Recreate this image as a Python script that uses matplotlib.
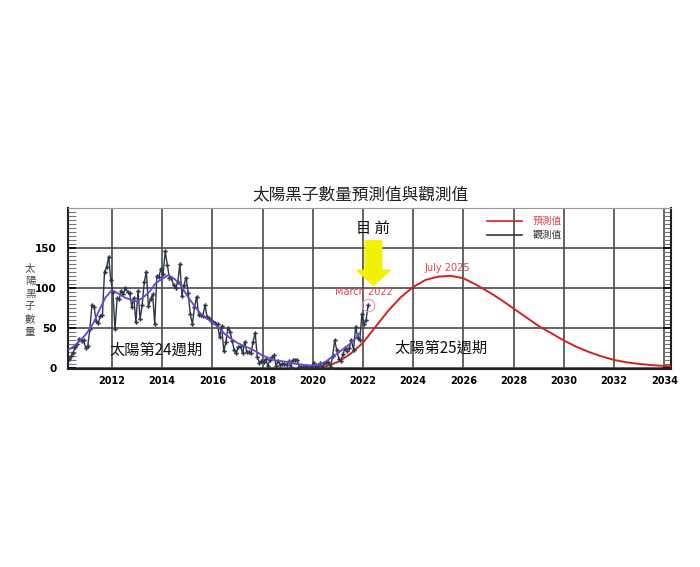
import numpy as np
import matplotlib
matplotlib.use('Agg')
from matplotlib import pyplot as plt
from matplotlib.ticker import MultipleLocator

plt.rcParams['font.family'] = ['Noto Sans CJK TC', 'DejaVu Sans']

# monthly observed sunspot numbers, Apr 2010 .. Mar 2022
obs_start = (2010, 4)
obs_values = [
    10.4, 13.9, 18.8, 25.2, 29.6, 36.4, 33.6, 34.4, 24.5,
    27.3, 48.3, 78.6, 76.1, 58.2, 56.1, 64.5, 65.8, 120.1, 125.7, 139.1, 109.3,
    94.4, 47.8, 86.6, 85.9, 96.5, 92.0, 100.1, 94.8, 93.7, 76.5, 87.6, 56.8,
    96.1, 60.9, 78.3, 107.3, 120.2, 76.7, 86.2, 91.8, 54.5, 114.4, 113.9, 124.2,
    117.0, 146.1, 128.7, 112.5, 112.5, 102.9, 100.2, 106.9, 130.0, 90.0, 103.6, 112.9,
    93.0, 66.7, 54.5, 75.3, 88.8, 66.5, 65.8, 64.4, 78.6, 63.6, 62.2, 58.0,
    57.0, 56.4, 54.1, 37.9, 51.5, 20.5, 32.4, 50.2, 44.6, 33.4, 21.4, 18.5,
    26.1, 26.4, 17.7, 32.3, 18.9, 19.2, 17.8, 32.6, 43.7, 13.2, 5.7, 8.2,
    6.8, 10.7, 2.5, 8.9, 13.1, 15.6, 1.6, 8.7, 3.3, 4.9, 4.9, 3.1,
    7.7, 0.8, 9.4, 9.1, 9.9, 1.2, 0.9, 0.5, 1.1, 0.4, 0.5, 1.5,
    6.2, 0.2, 1.5, 5.2, 0.2, 5.8, 6.1, 7.5, 0.6, 14.4, 34.0, 21.8,
    10.4, 8.2, 17.2, 24.5, 21.2, 25.0, 34.3, 22.0, 51.3, 37.4, 34.8, 67.5,
    54.0, 59.7, 78.5,
]

smooth_years = [2010.25, 2010.5, 2010.75, 2011.0, 2011.25, 2011.5, 2011.75, 2012.0,
                2012.25, 2012.5, 2012.75, 2013.0, 2013.25, 2013.5, 2013.75, 2014.0,
                2014.25, 2014.5, 2014.75, 2015.0, 2015.25, 2015.5, 2015.75, 2016.0,
                2016.25, 2016.5, 2016.75, 2017.0, 2017.25, 2017.5, 2017.75, 2018.0,
                2018.25, 2018.5, 2018.75, 2019.0, 2019.25, 2019.5, 2019.75, 2020.0,
                2020.25, 2020.5, 2020.75, 2021.0, 2021.25, 2021.5, 2021.75, 2021.85]
smooth_values = [22, 27, 34, 43, 55, 72, 88, 97,
                 93, 88, 85, 83, 88, 95, 106, 111,
                 116, 111, 103, 90, 79, 69, 62, 57,
                 50, 42, 36, 31, 27, 24, 20, 15,
                 12, 9, 8, 7, 5, 4, 3, 2.5,
                 4, 7, 13, 18, 24, 30, 38, 43]

# predicted cycle 25
pred_years = [2020.4, 2020.5, 2021.0, 2021.5, 2022.0, 2022.5, 2023.0, 2023.5, 2024.0,
              2024.5, 2025.0, 2025.5, 2026.0, 2026.5, 2027.0, 2027.5, 2028.0, 2028.5,
              2029.0, 2029.5, 2030.0, 2030.5, 2031.0, 2031.5, 2032.0, 2032.5, 2033.0,
              2033.5, 2034.0, 2034.3]
pred_values = [0.5, 1, 7, 17, 31, 51, 71, 88, 101,
               110, 114, 115, 112, 104, 95, 85, 74, 63,
               52, 43, 34, 26, 19.5, 14, 9.5, 6.5, 4.5,
               3, 2, 1.5]

x_ticks = list(range(2012, 2035, 2))
y_ticks = [0, 50, 100, 150]

obs_years = [obs_start[0] + (obs_start[1] - 1 + i + 0.5) / 12 for i in range(len(obs_values))]

fig = plt.figure(figsize=(7, 5.67), dpi=100)
ax = fig.add_axes([0.097, 0.349, 0.862, 0.284])

ax.set_xlim(2010.25, 2034.28)
ax.set_ylim(-2, 200)

ax.plot(pred_years, pred_values, color='#d42222', lw=1.4, label='預測值', zorder=3)
ax.plot(obs_years, obs_values, color='#2c3848', lw=1.0, marker='P', ms=3.2, mew=0,
        label='觀測值', zorder=4)
ax.plot(smooth_years, smooth_values, color='#6c44d8', lw=1.3, zorder=5)
ax.plot(obs_years[-1], obs_values[-1], marker='o', ms=9, mfc='none',
        mec='#e89aa8', mew=0.8, zorder=6)

# grid and ticks
ax.set_xticks(x_ticks)
ax.set_yticks(y_ticks)
ax.yaxis.set_minor_locator(MultipleLocator(5))
ax.grid(True, which='major', color='#4a4a4a', lw=1.2)
ax.set_axisbelow(True)
ax.tick_params(axis='y', which='both', direction='in', left=True, right=True,
               labelsize=7.5, pad=8)
ax.tick_params(axis='y', which='minor', length=6, width=0.8, color='#777777')
ax.tick_params(axis='y', which='major', length=6, width=1.2)
ax.tick_params(axis='x', which='major', length=0, labelsize=7, pad=5)
for lab in ax.get_xticklabels() + ax.get_yticklabels():
    lab.set_fontweight('bold')
    lab.set_family('DejaVu Sans')
for side in ['left', 'bottom', 'right']:
    ax.spines[side].set_linewidth(1.5)
    ax.spines[side].set_color('#222222')
ax.spines['top'].set_color('#999999')

# annotations
ax.arrow(2022.42, 159, 0, -56, width=0.66, head_width=1.33, head_length=19,
         length_includes_head=True, color='#f2f200', zorder=7)
ax.text(2022.38, 175, '目 前', fontsize=11, ha='center', va='center', color='#111111')
ax.text(2022.05, 95, 'March 2022', fontsize=7, ha='center', va='center',
        color='#e04455', family='DejaVu Sans')
ax.text(2025.35, 125, 'July 2025', fontsize=7, ha='center', va='center',
        color='#e04455', family='DejaVu Sans')
ax.text(2013.75, 22, '太陽第24週期', fontsize=11, ha='center', va='center', color='#111111')
ax.text(2025.1, 24, '太陽第25週期', fontsize=11, ha='center', va='center', color='#111111')

leg = ax.legend(loc='upper left', bbox_to_anchor=(0.688, 0.975), frameon=False,
                fontsize=7, handlelength=3.6, handletextpad=1.1, labelspacing=0.45,
                borderaxespad=0)
leg.get_texts()[0].set_color('#e04444')
leg.get_texts()[1].set_color('#333333')
for line in leg.get_lines():
    line.set_marker('')
    line.set_linewidth(1.2)

fig.text(0.515, 0.656, '太陽黑子數量預測值與觀測值', fontsize=12, ha='center',
         va='center', color='#222222')
fig.text(0.043, 0.471, '\n'.join('太陽黑子數量'), fontsize=7.5, ha='center',
         va='center', color='#444444', linespacing=1.35)

fig.savefig('out.png', dpi=100, facecolor='white')
